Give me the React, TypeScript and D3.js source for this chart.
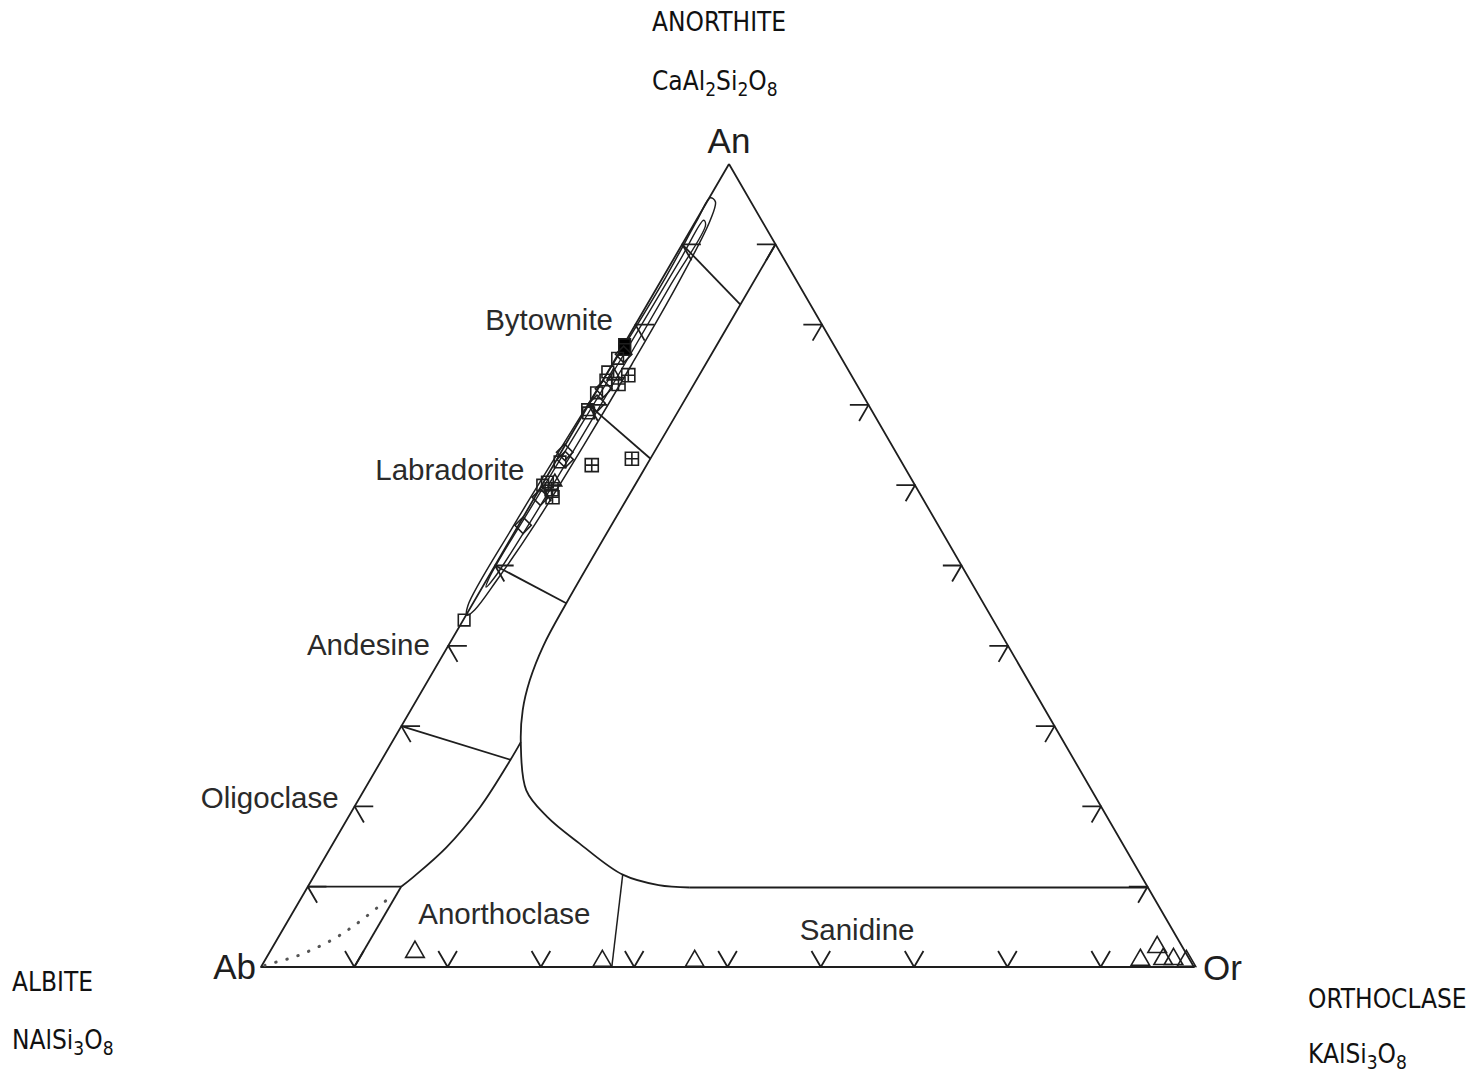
import React from "react";
import * as d3 from "d3";

// ---------- data (ternary percentages: An, Or ; Ab = 100 - An - Or) ----------
const TICKS = [10, 20, 30, 40, 50, 60, 70, 80, 90];

const CORNER_LABELS = [
  { text: "An", an: 100, or: 0 },
  { text: "Ab", an: 0, or: 0 },
  { text: "Or", an: 0, or: 100 },
];

const FIELD_LABELS = [
  { text: "Bytownite", an: 79.3, or: -8.9 },
  { text: "Labradorite", an: 60.7, or: -10.2 },
  { text: "Andesine", an: 38.9, or: -8.0 },
  { text: "Oligoclase", an: 19.8, or: -9.0 },
  { text: "Anorthoclase", an: 5.35, or: 23.4 },
  { text: "Sanidine", an: 3.36, or: 62.2 },
];

// solvus / field boundary (main branch)
const SOLVUS: [number, number][] = [
  [90, 10], [70, 10], [45.3, 10], [40, 10.2], [35.7, 10.9], [32, 12.0],
  [28, 13.8], [22, 17.4], [18.7, 21.3], [15.4, 26.4], [11.5, 33], [10.2, 37.5], [9.9, 41],
];
const SOLVUS_TAIL: [number, number][] = [[9.9, 41], [9.9, 90.1]];
// lower-left branch (oligoclase / anorthoclase)
const BRANCH: [number, number][] = [
  [28, 13.8], [25.8, 13.8], [19.9, 13.5], [14.9, 12.4], [11.2, 10.7], [10, 10],
];
const BRANCH_TAIL: [number, number][] = [[10, 10], [0, 10]];
// plagioclase tie lines
const TIE_LINES: [number, number][][] = [
  [[90, 0], [82.5, 10]],
  [[70, 0], [63.3, 10]],
  [[50, 0], [45.3, 10]],
  [[30, 0], [25.8, 13.8]],
  [[10, 0], [10, 10]],
];
// anorthoclase / sanidine division
const AN_SAN_LINE: [number, number][] = [[11.5, 33], [0, 37.6]];
// dotted curve near albite
const DOTTED: [number, number][] = [
  [0.2, 0.3], [0.5, 1.04], [1.37, 3.17], [3.36, 5.9], [5.23, 7.45], [7.47, 8.8], [8.97, 9.65],
];

// narrow composition loops along the An-Ab join
const LOOP_OUTER: [number, number][] = [
  [95.8, 0.1], [95.3, 0.9], [93, 1.5], [85, 2.0], [75, 2.1], [65, 2.0], [55, 1.7], [48, 1.1],
  [44.5, 0.6], [43.8, 0.1], [45, -0.4], [55, -0.5], [70, -0.1], [85, 0.3], [93, 0.1],
];
const LOOP_INNER: [number, number][] = [
  [93, 0.8], [92.4, 1.3], [85, 1.3], [70, 1.3], [55, 1.05], [48.5, 0.7], [47.3, 0.4],
  [48.5, 0.15], [60, 0.3], [75, 0.6], [88, 0.75],
];

const FILLED_SQ: [number, number][] = [[77.5, 0.1], [76.9, 0.4]];
const OPEN_SQ: [number, number][] = [
  [75.8, 0.2], [74.1, 0.0], [73.1, 0.3], [71.5, 0.1], [69.4, 0.2], [69.0, 0.5],
  [62.9, 0.5], [60.4, 0.4], [60.0, 0.1], [43.2, 0.1],
];
const DIAMONDS: [number, number][] = [
  [76.3, 0.6], [72.0, 0.6], [70.2, 0.8], [64.1, 0.4], [63.2, 0.9], [58.5, 0.6], [55.0, 0.5],
];
const CROSSED_SQ: [number, number][] = [
  [73.7, 2.4], [72.6, 1.9], [62.5, 4.1], [63.3, 8.0], [58.5, 1.9], [59.5, 1.3],
];
const PLAG_TRI: [number, number][] = [[60.4, 1.2], [73.6, 0.9]];
const KSPAR_TRI: [number, number][] = [
  [1.5, 15.75], [0.37, 36.4], [0.37, 46.3], [0.5, 94.0], [2.1, 95.0], [0.6, 96.4], [0.6, 97.5], [0.37, 99.0],
];

const MINERALS = [
  { name: "ANORTHITE", formula: [["CaAl", 0], ["2", 1], ["Si", 0], ["2", 1], ["O", 0], ["8", 1]] },
  { name: "ALBITE", formula: [["NAlSi", 0], ["3", 1], ["O", 0], ["8", 1]] },
  { name: "ORTHOCLASE", formula: [["KAlSi", 0], ["3", 1], ["O", 0], ["8", 1]] },
];

// ---------- layout ----------
const X0 = 261;
const sOr = d3.scaleLinear().domain([0, 100]).range([0, 933]);
const sAnX = d3.scaleLinear().domain([0, 100]).range([0, 468]);
const sAnY = d3.scaleLinear().domain([0, 100]).range([967, 164]);
const P = (an: number, or: number): [number, number] => [X0 + sOr(or) + sAnX(an), sAnY(an)];

const INK = "#1e1e1e";
const SW = 1.8;

const lineGen = (curve: any = d3.curveLinear) =>
  d3
    .line<[number, number]>()
    .x((d) => P(d[0], d[1])[0])
    .y((d) => P(d[0], d[1])[1])
    .curve(curve);

const MINERAL_POS = [
  { x: 652, y: 31, gap: 59 },
  { x: 12, y: 991, gap: 58 },
  { x: 1308, y: 1008, gap: 55 },
];

export default function App() {
  const straight = lineGen();
  const smooth = lineGen(d3.curveCatmullRom.alpha(0.5));
  const closed = lineGen(d3.curveCatmullRomClosed.alpha(0.5));

  const triPath = d3.symbol().type(d3.symbolTriangle).size(150)() as string;
  const smallTri = d3.symbol().type(d3.symbolTriangle).size(80)() as string;
  const sqPath = d3.symbol().type(d3.symbolSquare).size(170)() as string;
  const smallSq = d3.symbol().type(d3.symbolSquare).size(135)() as string;

  const ticks: string[] = [];
  TICKS.forEach((t) => {
    ticks.push(straight([[t, 2], [t, 0], [t - 2, 2]]) as string);
    ticks.push(straight([[t, 98 - t], [t, 100 - t], [t - 2, 100 - t]]) as string);
    ticks.push(straight([[2, t - 2], [0, t], [2, t]]) as string);
  });

  const outer = straight([[100, 0], [0, 0], [0, 100], [100, 0]]) as string;

  return (
    <svg
      width={1479}
      height={1076}
      style={{ position: "absolute", left: 0, top: 0, background: "#fff" }}
    >
      <rect width={1479} height={1076} fill="#fff" />
      {/* mineral names */}
      {MINERALS.map((m, i) => (
        <g key={m.name} fontFamily="'Liberation Sans Narrow', 'DejaVu Sans Condensed', sans-serif" fill="#111">
          <text x={MINERAL_POS[i].x} y={MINERAL_POS[i].y} fontSize={26}>
            {m.name}
          </text>
          <text x={MINERAL_POS[i].x} y={MINERAL_POS[i].y + MINERAL_POS[i].gap} fontSize={26}>
            {m.formula.map(([s, sub], j) => (
              <tspan key={j} fontSize={sub ? 19 : 26} dy={sub ? 6 : j > 0 ? -6 : 0}>
                {s as string}
              </tspan>
            ))}
          </text>
        </g>
      ))}

      <g fill="none" stroke={INK} strokeWidth={SW} strokeLinejoin="round">
        <path d={outer} />
        {ticks.map((d, i) => (
          <path key={i} d={d} />
        ))}
        <path d={smooth(SOLVUS) as string} />
        <path d={straight(SOLVUS_TAIL) as string} />
        <path d={smooth(BRANCH) as string} />
        <path d={straight(BRANCH_TAIL) as string} />
        {TIE_LINES.map((l, i) => (
          <path key={i} d={straight(l) as string} />
        ))}
        <path d={straight(AN_SAN_LINE) as string} strokeWidth={1.5} />
        <path
          d={smooth(DOTTED) as string}
          strokeDasharray="0.5 11"
          strokeLinecap="round"
          strokeWidth={3}
          stroke="#555"
        />
        <path d={closed(LOOP_OUTER) as string} strokeWidth={1.5} />
        <path d={closed(LOOP_INNER) as string} strokeWidth={1.4} />
      </g>

      {/* markers */}
      <g stroke={INK} strokeWidth={1.6}>
        {FILLED_SQ.map((d, i) => {
          const [x, y] = P(d[0], d[1]);
          return <path key={"f" + i} d={smallSq} transform={`translate(${x},${y})`} fill="#000" />;
        })}
        {OPEN_SQ.map((d, i) => {
          const [x, y] = P(d[0], d[1]);
          return <path key={"s" + i} d={smallSq} transform={`translate(${x},${y})`} fill="none" />;
        })}
        {DIAMONDS.map((d, i) => {
          const [x, y] = P(d[0], d[1]);
          return (
            <path key={"d" + i} d={smallSq} transform={`translate(${x},${y}) rotate(45)`} fill="none" />
          );
        })}
        {CROSSED_SQ.map((d, i) => {
          const [x, y] = P(d[0], d[1]);
          return (
            <g key={"c" + i} transform={`translate(${x},${y})`} fill="none">
              <path d={sqPath} />
              <path d="M-6.5,0H6.5M0,-6.5V6.5" />
            </g>
          );
        })}
        {PLAG_TRI.map((d, i) => {
          const [x, y] = P(d[0], d[1]);
          return <path key={"pt" + i} d={smallTri} transform={`translate(${x},${y})`} fill="none" />;
        })}
        {KSPAR_TRI.map((d, i) => {
          const [x, y] = P(d[0], d[1]);
          return <path key={"t" + i} d={triPath} transform={`translate(${x},${y - 3})`} fill="none" />;
        })}
      </g>

      {/* field labels */}
      <g fontFamily="'Liberation Sans', Arial, sans-serif" fontSize={29.5} fill="#2a2a2a" textAnchor="middle">
        {FIELD_LABELS.map((l) => {
          const [x, y] = P(l.an, l.or);
          return (
            <text key={l.text} x={x} y={y}>
              {l.text}
            </text>
          );
        })}
      </g>

      {/* corner labels */}
      <g fontFamily="'Liberation Sans', Arial, sans-serif" fontSize={35} fill="#1e1e1e">
        {CORNER_LABELS.map((c) => {
          const [x, y] = P(c.an, c.or);
          if (c.text === "An")
            return (
              <text key={c.text} x={x} y={y - 11} textAnchor="middle">
                {c.text}
              </text>
            );
          if (c.text === "Ab")
            return (
              <text key={c.text} x={x - 5} y={y + 12} textAnchor="end">
                {c.text}
              </text>
            );
          return (
            <text key={c.text} x={x + 9} y={y + 13} textAnchor="start">
              {c.text}
            </text>
          );
        })}
      </g>
    </svg>
  );
}
